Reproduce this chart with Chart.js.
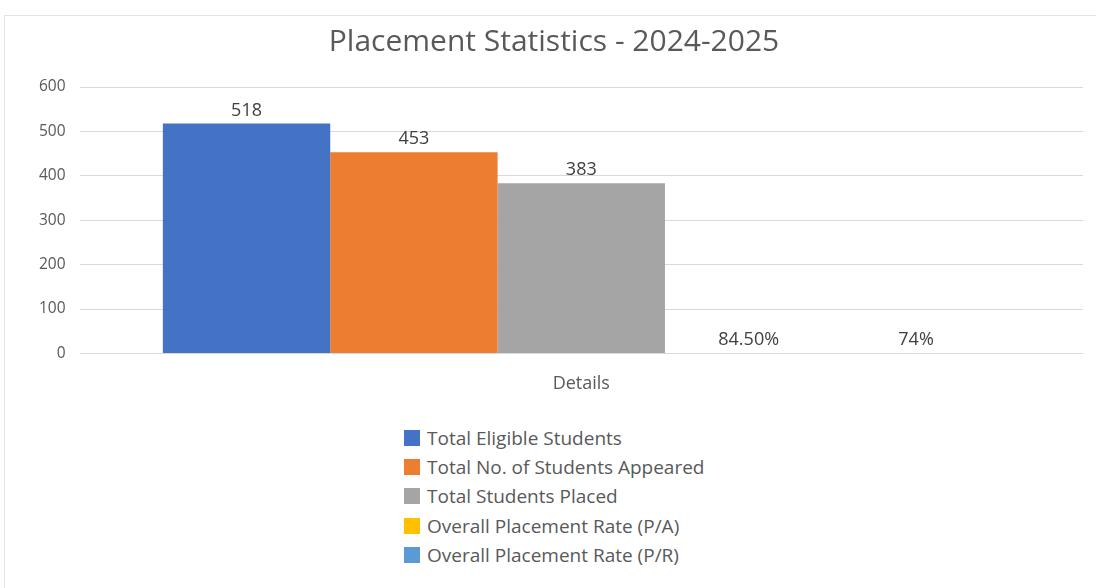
<!DOCTYPE html>
<html>
<head>
<meta charset="utf-8">
<script src="https://cdn.jsdelivr.net/npm/chart.js@4.4.1/dist/chart.umd.min.js"></script>
<style>
  html, body { margin: 0; padding: 0; background: #fff; }
  body { width: 1096px; height: 588px; position: relative; overflow: hidden; font-family: "Open Sans", sans-serif; }
  #card { position: absolute; left: 4px; top: 15px; right: 0; bottom: 0; border-top: 1px solid #e4e4e4; border-left: 1px solid #e4e4e4; }
  #chartBox { position: absolute; left: 0; top: 0; width: 1096px; height: 422px; }
  #legend { position: absolute; left: 404px; top: 423px; }
  .item { display: flex; align-items: center; height: 29.3px; color: #595959; font-size: 19px; }
  .item span.box { width: 16px; height: 16px; margin-right: 7px; }
</style>
</head>
<body>
<div id="card"></div>
<div id="chartBox"><canvas id="chart"></canvas></div>
<div id="legend"></div>
<script>
// 데이터
const categories = ['Details'];
const seriesNames = [
  'Total Eligible Students',
  'Total No. of Students Appeared',
  'Total Students Placed',
  'Overall Placement Rate (P/A)',
  'Overall Placement Rate (P/R)'
];
const seriesValues = [518, 453, 383, 0.845, 0.74];
const valueLabels = ['518', '453', '383', '84.50%', '74%'];
const seriesColors = ['#4472C4', '#ED7D31', '#A5A5A5', '#FFC000', '#5B9BD5'];
const yTicks = [0, 100, 200, 300, 400, 500, 600];

const textColor = '#595959';
const fontFamily = '"Open Sans", sans-serif';

// 막대 위 값 표시
const valueLabelPlugin = {
  id: 'valueLabels',
  afterDatasetsDraw(chart) {
    const ctx = chart.ctx;
    ctx.save();
    ctx.font = '18px ' + fontFamily;
    ctx.fillStyle = '#404040';
    ctx.textAlign = 'center';
    ctx.textBaseline = 'bottom';
    chart.data.datasets.forEach((ds, i) => {
      const bar = chart.getDatasetMeta(i).data[0];
      ctx.fillText(valueLabels[i], bar.x, bar.y - 4);
    });
    ctx.restore();
  }
};

const datasets = seriesNames.map((name, i) => ({
  label: name,
  data: [seriesValues[i]],
  backgroundColor: seriesColors[i],
  borderWidth: 0,
  barPercentage: 1,
  categoryPercentage: 0.834
}));

const chart = new Chart(document.getElementById('chart'), {
  type: 'bar',
  data: { labels: categories, datasets },
  options: {
    responsive: true,
    maintainAspectRatio: false,
    animation: false,
    layout: { padding: { left: 25, right: 13, top: 8, bottom: 7 } },
    plugins: {
      legend: { display: false },
      tooltip: { enabled: false },
      title: {
        display: true,
        text: 'Placement Statistics - 2024-2025',
        color: textColor,
        font: { family: fontFamily, size: 30, weight: 'normal' },
        padding: { top: 16, bottom: 27 }
      }
    },
    scales: {
      x: {
        grid: { display: false, drawTicks: false },
        border: { display: false },
        ticks: { color: textColor, font: { family: fontFamily, size: 18 }, padding: 20 }
      },
      y: {
        min: 0,
        max: yTicks[yTicks.length - 1],
        afterBuildTicks: axis => { axis.ticks = yTicks.map(v => ({ value: v })); },
        grid: { color: '#d9d9d9', drawTicks: false },
        border: { display: false },
        ticks: { color: textColor, font: { family: fontFamily, size: 15.5 }, padding: 14 }
      }
    }
  },
  plugins: [valueLabelPlugin]
});

// 범례 (세로)
const legendEl = document.getElementById('legend');
seriesNames.forEach((name, i) => {
  const div = document.createElement('div');
  div.className = 'item';
  div.innerHTML = `<span class="box" style="background:${seriesColors[i]}"></span>${name}`;
  legendEl.appendChild(div);
});
</script>
</body>
</html>
